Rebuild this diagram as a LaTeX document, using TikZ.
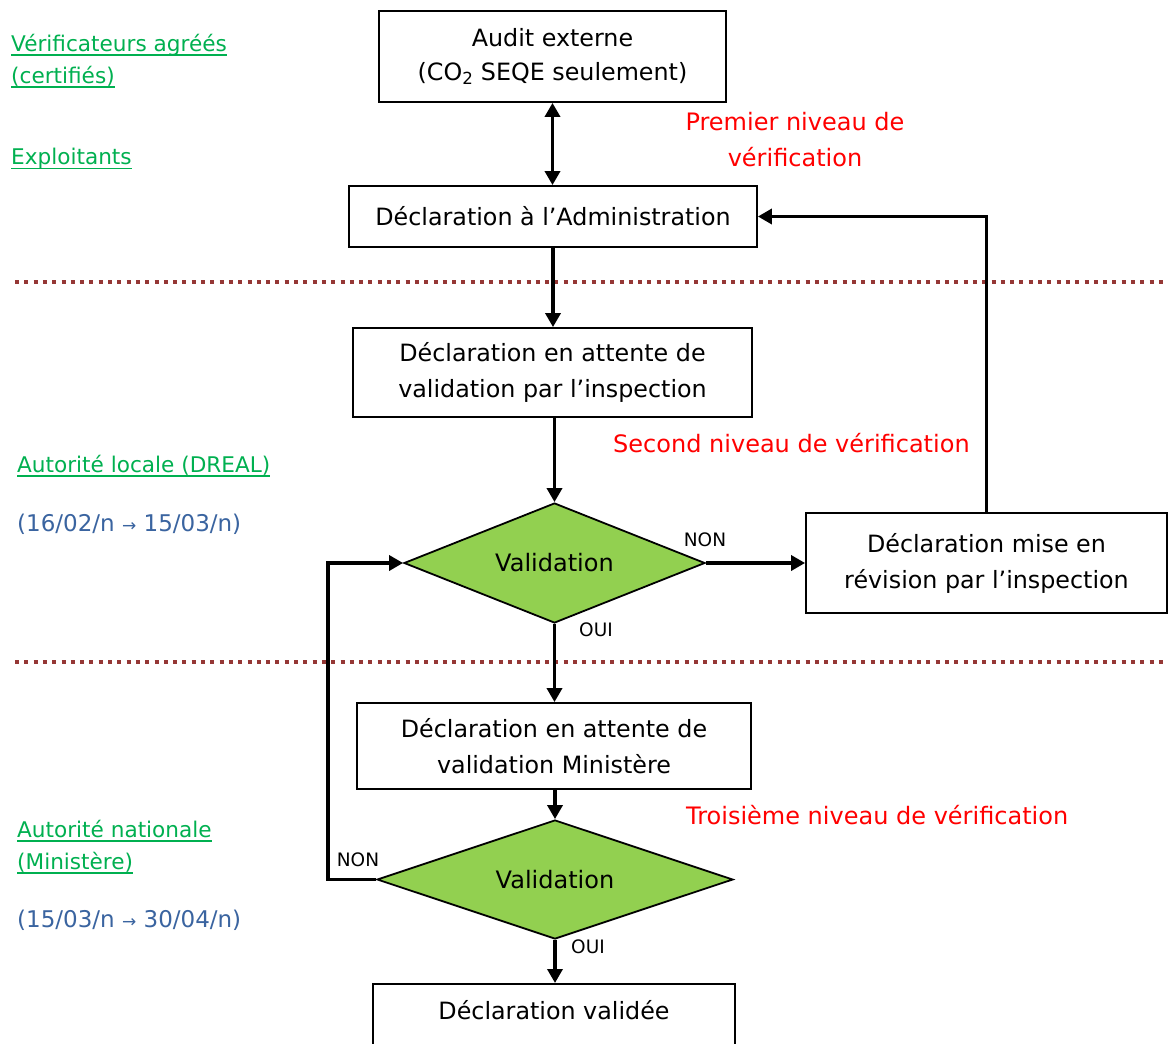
\documentclass[tikz,border=0pt]{standalone}
\usepackage{fontspec}
\setmainfont{DejaVu Sans}
\newcommand\grnul[1]{\setbox0\hbox{#1}\rlap{\rule[-4.5pt]{\wd0}{1.5pt}}\box0}
\usetikzlibrary{arrows.meta,shapes.geometric}
\definecolor{grn}{HTML}{00B050}
\definecolor{rd}{HTML}{FF0000}
\definecolor{bl}{HTML}{3A64A0}
\definecolor{sepc}{HTML}{953735}
\definecolor{dfill}{HTML}{92D050}
\begin{document}
\begin{tikzpicture}[x=1pt,y=-1pt,
  box/.style={draw,line width=1.8pt,align=center,inner sep=0pt,font=\fontsize{23.8}{36}\selectfont},
  dec/.style={diamond,aspect=2.5,draw,line width=1.8pt,fill=dfill,inner sep=0pt,font=\fontsize{24}{30}\selectfont},
  conn/.style={line width=3.4pt,-{Triangle[length=14pt,width=15pt]}},
  lbl/.style={inner sep=0pt,font=\fontsize{18.5}{20}\selectfont},
  lvl/.style={inner sep=0pt,text=rd,align=center,font=\fontsize{24}{36}\selectfont},
  who/.style={inner sep=0pt,text=grn,align=left,anchor=west,font=\fontsize{21.6}{32}\selectfont},
  when/.style={inner sep=0pt,text=bl,anchor=west,font=\fontsize{23}{26}\selectfont},
  sepline/.style={line width=3.5pt,sepc,dash pattern=on 4pt off 5.3pt}]
\clip (0,0) rectangle (1168,1044);
\fill[white] (0,0) rectangle (1168,1044);
% separators
\coordinate (s1a) at (15,282); \coordinate (s1b) at (1168,282);
\coordinate (s2a) at (15,662); \coordinate (s2b) at (1168,662);
\draw[sepline] (s1a) -- (s1b);
\draw[sepline] (s2a) -- (s2b);
% boxes
\node[box,minimum width=347pt,minimum height=91pt,font=\fontsize{23.8}{34}\selectfont] (audit) at (552.5,56.5) {Audit externe\\(CO\textsubscript{2} SEQE seulement)};
\node[box,minimum width=408pt,minimum height=61pt] (admin) at (553,216.5) {Déclaration à l’Administration};
\node[box,minimum width=399pt,minimum height=89pt] (att1) at (552.5,372.5) {Déclaration en attente de\\validation par l’inspection};
\node[box,minimum width=361pt,minimum height=100pt] (rev) at (986.5,563) {Déclaration mise en\\révision par l’inspection};
\node[box,minimum width=394pt,minimum height=86pt] (att2) at (554,746) {Déclaration en attente de\\validation Ministère};
\node[box,minimum width=362pt,anchor=north,text height=18pt,text depth=90pt,inner ysep=18pt] (valid) at (554,983) {Déclaration validée};
% diamonds
\node[dec,minimum width=301pt,minimum height=120pt] (d1) at (554.5,563) {Validation};
\node[dec,minimum width=356pt,minimum height=119pt] (d2) at (555,879.5) {Validation};
% connectors
\draw[line width=3.4pt,{Triangle[length=14pt,width=15pt]}-{Triangle[length=14pt,width=15pt]}] (audit.south) -- (audit.south |- admin.north);
\draw[conn] (admin.south) -- (admin.south |- att1.north);
\draw[conn] (att1.south -| d1.north) -- (d1.north);
\draw[conn] (d1.east) -- (rev.west);
\draw[conn] (rev.north) -- (rev.north |- admin.east) -- (admin.east);
\draw[conn] (d1.south) -- (d1.south |- att2.north);
\draw[conn] (att2.south -| d2.north) -- (d2.north);
\coordinate (lp) at (328,879.5);
\draw[conn] (d2.west) -- (lp) |- (d1.west);
\draw[conn] (d2.south) -- (d2.south |- valid.north);
% branch labels
\node[lbl] (non1) at (705,540) {NON};
\node[lbl] (oui1) at (596,630) {OUI};
\node[lbl] (non2) at (358,860) {NON};
\node[lbl] (oui2) at (588,947) {OUI};
% level labels
\node[lvl] (lev1) at (795,140) {Premier niveau de\\vérification};
\node[lvl,anchor=west] (lev2) at (613,443) {Second niveau de vérification};
\node[lvl,anchor=west] (lev3) at (686,815) {Troisième niveau de vérification};
% actors
\node[who] (verif) at (11,61) {\grnul{Vérificateurs agréés}\\\grnul{(certifiés)}};
\node[who] (expl) at (11,159) {\grnul{Exploitants}};
\node[who] (dreal) at (17,466) {\grnul{Autorité locale (DREAL)}};
\node[who] (minis) at (17,847) {\grnul{Autorité nationale}\\\grnul{(Ministère)}};
\node[when] (date1) at (17,524) {(16/02/n {\fontsize{17}{20}\selectfont →} 15/03/n)};
\node[when] (date2) at (17,920) {(15/03/n {\fontsize{17}{20}\selectfont →} 30/04/n)};
\end{tikzpicture}
\end{document}
